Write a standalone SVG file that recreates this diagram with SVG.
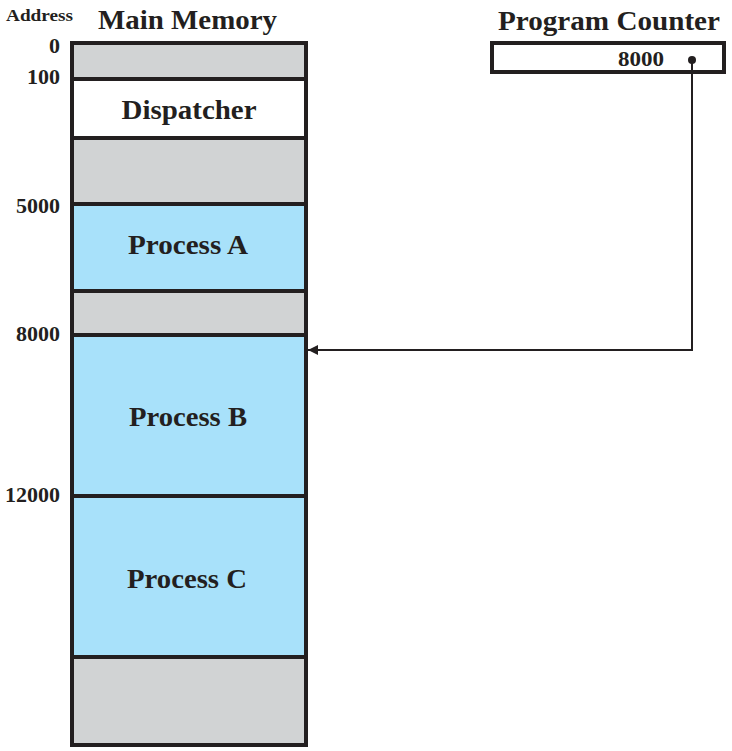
<svg xmlns="http://www.w3.org/2000/svg" width="732" height="751" viewBox="0 0 732 751">
  <style>
    .t { font-family: "Liberation Serif", "Times New Roman", serif; font-weight: bold; fill: #231f20; }
    .title { font-size: 27px; }
    .addr { font-size: 22px; text-anchor: end; }
    .lbl { font-size: 27px; text-anchor: middle; }
    .gray { fill: #d1d3d4; }
    .blue { fill: #a8e1fa; }
    .white { fill: #ffffff; }
    .div { stroke: #231f20; stroke-width: 4; fill: none; }
    .wire { stroke: #231f20; stroke-width: 2; fill: none; }
  </style>
  <defs>
    <marker id="arrow" viewBox="0 0 10 10" refX="10" refY="5" markerWidth="10" markerHeight="10" markerUnits="userSpaceOnUse" orient="auto">
      <path d="M0,0 L10,5 L0,10 Z" fill="#231f20"/>
    </marker>
  </defs>

  <rect width="732" height="751" fill="#ffffff"/>

  <!-- headings -->
  <text class="t" x="6" y="21" font-size="17" textLength="67" lengthAdjust="spacingAndGlyphs">Address</text>
  <text class="t title" x="98" y="29" textLength="179" lengthAdjust="spacingAndGlyphs">Main Memory</text>
  <text class="t title" x="498" y="30" textLength="222" lengthAdjust="spacingAndGlyphs">Program Counter</text>

  <!-- address labels -->
  <g id="addresses">
    <text class="t addr" x="60" y="53">0</text>
    <text class="t addr" x="60" y="84">100</text>
    <text class="t addr" x="60" y="213">5000</text>
    <text class="t addr" x="60" y="341">8000</text>
    <text class="t addr" x="60" y="502">12000</text>
  </g>

  <!-- main memory regions -->
  <g id="memory">
    <rect class="gray" x="72" y="43" width="234" height="36"/>
    <rect class="white" x="72" y="79" width="234" height="59"/>
    <rect class="gray" x="72" y="138" width="234" height="66"/>
    <rect class="blue" x="72" y="204" width="234" height="87"/>
    <rect class="gray" x="72" y="291" width="234" height="44"/>
    <rect class="blue" x="72" y="335" width="234" height="161"/>
    <rect class="blue" x="72" y="496" width="234" height="161"/>
    <rect class="gray" x="72" y="657" width="234" height="88"/>
    <line class="div" x1="72" y1="79" x2="306" y2="79"/>
    <line class="div" x1="72" y1="138" x2="306" y2="138"/>
    <line class="div" x1="72" y1="204" x2="306" y2="204"/>
    <line class="div" x1="72" y1="291" x2="306" y2="291"/>
    <line class="div" x1="72" y1="335" x2="306" y2="335"/>
    <line class="div" x1="72" y1="496" x2="306" y2="496"/>
    <line class="div" x1="72" y1="657" x2="306" y2="657"/>
    <rect class="div" x="72" y="43" width="234" height="702"/>
  </g>

  <g id="dispatcher">
    <text class="t lbl" x="189" y="119" textLength="135" lengthAdjust="spacingAndGlyphs">Dispatcher</text>
  </g>
  <g id="process-a">
    <text class="t lbl" x="188" y="254" textLength="120" lengthAdjust="spacingAndGlyphs">Process A</text>
  </g>
  <g id="process-b">
    <text class="t lbl" x="188" y="426" textLength="118" lengthAdjust="spacingAndGlyphs">Process B</text>
  </g>
  <g id="process-c">
    <text class="t lbl" x="187" y="588" textLength="120" lengthAdjust="spacingAndGlyphs">Process C</text>
  </g>

  <!-- program counter register -->
  <g id="program-counter">
    <rect class="div" x="492" y="43" width="232" height="29" fill="#ffffff"/>
    <text class="t" x="618" y="66" font-size="21" textLength="46" lengthAdjust="spacingAndGlyphs">8000</text>
  </g>

  <!-- pointer from program counter into memory -->
  <g id="connectors">
    <circle cx="692" cy="60" r="4" fill="#231f20"/>
    <polyline class="wire" points="692,60 692,350 308,350" marker-end="url(#arrow)"/>
  </g>
</svg>
